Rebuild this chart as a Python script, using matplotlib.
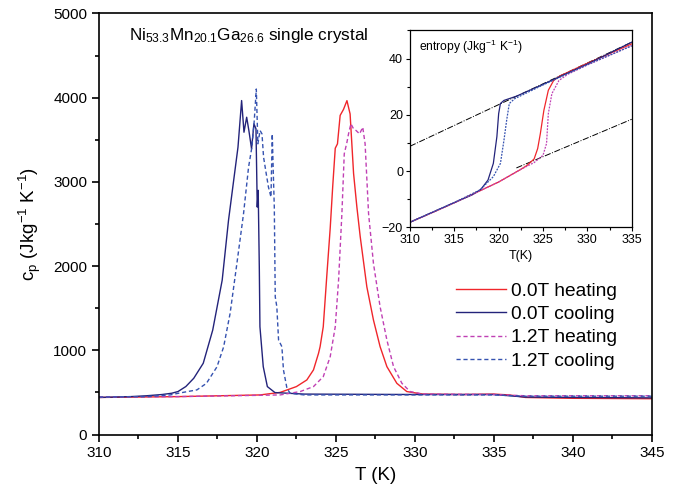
import matplotlib
matplotlib.use("Agg")
import matplotlib.pyplot as plt
from matplotlib.ticker import MultipleLocator

plt.rcParams['font.family'] = ['Liberation Sans', 'DejaVu Sans']
plt.rcParams['mathtext.default'] = 'regular'

# ---------------- main panel data: c_p (J kg^-1 K^-1) vs T (K) ----------------
T_cool0 = [310, 312, 313, 314, 314.6, 315, 315.5, 316, 316.6, 317.2, 317.8, 318.2, 318.5, 318.8, 319.03,
           319.18, 319.35, 319.49, 319.66, 319.81, 319.94, 320.02, 320.08, 320.15, 320.19,
           320.4, 320.66, 321.14, 323, 330, 335, 337, 340, 345]
cp_cool0 = [440, 450, 460, 475, 490, 510, 570, 668, 846, 1240, 1833, 2543, 2979, 3412, 3966,
            3590, 3768, 3610, 3393, 3690, 3630, 2701, 2900, 1990, 1280,
            806, 569, 498, 480, 475, 475, 445, 440, 435]

T_cool12 = [310, 313, 314.5, 315.14, 316.2, 316.8, 317.47, 317.89, 318.3, 318.73, 319.15,
            319.47, 319.68, 319.83, 319.96, 320.06, 320.2, 320.32, 320.42, 320.59, 320.73,
            320.89, 320.97, 321.05, 321.1, 321.16, 321.26, 321.37, 321.58, 321.68, 321.9,
            322.1, 323, 330, 335, 337, 345]
cp_cool12 = [445, 450, 470, 494, 530, 607, 804, 1040, 1437, 2030, 2620,
             3175, 3412, 3728, 4103, 3452, 3610, 3570, 3294, 3096, 2938,
             2820, 3570, 3017, 2701, 1635, 1517, 1122, 1043, 767, 550,
             490, 470, 470, 470, 455, 455]

T_heat0 = [310, 315, 320.2, 321.47, 322.5, 323.16, 323.58, 323.9, 324.0, 324.2, 324.43,
           324.64, 324.8, 324.96, 325.1, 325.27, 325.48, 325.7, 325.9, 326.12, 326.33,
           326.54, 326.96, 327.38, 327.8, 328.23, 328.86, 329.49, 330.5, 333, 335, 336,
           337, 340, 345]
cp_heat0 = [440, 450, 470, 500, 569, 648, 767, 964, 1043, 1280, 1900,
            2450, 2950, 3400, 3452, 3790, 3860, 3965, 3807, 3100, 2700,
            2350, 1754, 1359, 1043, 806, 608, 510, 480, 475, 480, 470,
            440, 430, 425]

T_heat12 = [310, 315, 320, 321.47, 322.74, 323.58, 324.2, 324.64, 324.96, 325.17, 325.38,
            325.53, 325.7, 325.8, 325.95, 326.12, 326.28, 326.5, 326.7, 326.85, 327.07,
            327.38, 327.8, 328.23, 328.65, 329.18, 329.7, 330.5, 335, 337, 345]
cp_heat12 = [445, 450, 465, 470, 510, 569, 687, 924, 1280, 1833, 2622,
             3333, 3471, 3570, 3690, 3630, 3610, 3570, 3650, 3452, 2622,
             2030, 1517, 1122, 806, 608, 510, 480, 475, 460, 460]

# ---------------- inset data: entropy (J kg^-1 K^-1) vs T (K) ----------------
Ti_cool0 = [310, 312.5, 315, 317, 318, 318.8, 319.4, 319.8, 320, 320.2, 320.6, 322, 325,
            327.5, 330, 335]
S_cool0 = [-18.2, -14.7, -11.2, -8.5, -6.5, -3.2, 2.7, 12.2, 20.4, 24, 25.1, 26.6, 30.8,
           34.4, 38.0, 45.8]

Ti_cool12 = [310, 312.5, 315, 317.9, 319.4, 320.2, 320.6, 320.9, 321.2, 321.8, 325, 327.5,
             330, 335]
S_cool12 = [-18.2, -14.7, -11.2, -6.7, -2, 2.7, 11, 18, 24, 25.7, 30.6, 34.2, 37.8, 44.5]

Ti_heat0 = [310, 312.5, 315, 317.5, 320, 322.5, 323.2, 324, 324.4, 324.7, 325.1, 325.6,
            326.2, 326.9, 330, 335]
S_heat0 = [-18.2, -14.8, -11.3, -7.6, -3.9, 0.6, 2, 4.3, 8, 13.3, 21.6, 28.7,
           32.2, 33.8, 38.3, 45.2]

Ti_heat12 = [310, 312.5, 315, 317.5, 320, 322.5, 324, 325, 325.4, 325.6, 326, 326.8,
             327.8, 330, 335]
S_heat12 = [-18.2, -14.8, -11.3, -7.6, -3.9, 0.6, 3, 5.6, 9.8, 20.4, 27.5, 32.2,
            34.4, 37.7, 44.6]

# extrapolated phase lines (black)
Ti_upper = [310, 335]
S_upper = [8.8, 45.8]
Ti_lower = [322, 335]
S_lower = [1.1, 18.4]

labels = ['0.0T heating', '0.0T cooling', '1.2T heating', '1.2T cooling']

c_red = '#f0262b'
c_navy = '#23237a'
c_mag = '#c040b4'
c_blue = '#3552b0'

fig = plt.figure(figsize=(6.81, 4.98), dpi=100)
ax = fig.add_axes([0.1454, 0.1275, 0.8116, 0.8454])

ax.plot(T_heat0, cp_heat0, color=c_red, lw=1.0, label=labels[0])
ax.plot(T_cool0, cp_cool0, color=c_navy, lw=1.0, label=labels[1])
ax.plot(T_heat12, cp_heat12, color=c_mag, lw=1.0, ls=(0, (3, 2)), label=labels[2])
ax.plot(T_cool12, cp_cool12, color=c_blue, lw=1.0, ls=(0, (3, 2)), label=labels[3])

ax.set_xlim(310, 345)
ax.set_ylim(0, 5000)
ax.xaxis.set_major_locator(MultipleLocator(5))
ax.xaxis.set_minor_locator(MultipleLocator(2.5))
ax.yaxis.set_major_locator(MultipleLocator(1000))
ax.yaxis.set_minor_locator(MultipleLocator(500))
ax.tick_params(which='major', direction='out', length=5, width=1.2, labelsize=11)
ax.tick_params(which='minor', direction='out', length=3, width=1.2)
for s in ax.spines.values():
    s.set_linewidth(1.2)
ax.set_xlabel('T (K)', fontsize=13.5, labelpad=5)
ax.set_ylabel('c$_p$ (Jkg$^{-1}$ K$^{-1}$)', fontsize=13.5, labelpad=7)

ax.text(0.055, 0.948, 'Ni$_{53.3}$Mn$_{20.1}$Ga$_{26.6}$ single crystal',
        transform=ax.transAxes, fontsize=12.3, va='center', ha='left')

leg = ax.legend(loc='upper left', bbox_to_anchor=(0.632, 0.38), frameon=False,
                fontsize=13.8, handlelength=2.6, handletextpad=0.25, labelspacing=0.31,
                borderaxespad=0)

# ---------------- inset ----------------
axi = fig.add_axes([0.602, 0.5436, 0.3256, 0.3954])
axi.plot(Ti_upper, S_upper, color='black', lw=0.7, ls='-.')
axi.plot(Ti_lower, S_lower, color='black', lw=0.7, ls='-.')
axi.plot(Ti_heat0, S_heat0, color=c_red, lw=0.9)
axi.plot(Ti_cool0, S_cool0, color=c_navy, lw=0.9)
axi.plot(Ti_heat12, S_heat12, color=c_mag, lw=0.9, ls=(0, (1.5, 1)))
axi.plot(Ti_cool12, S_cool12, color=c_blue, lw=0.9, ls=(0, (1.5, 1)))
axi.set_xlim(310, 335)
axi.set_ylim(-20, 50)
axi.xaxis.set_major_locator(MultipleLocator(5))
axi.xaxis.set_minor_locator(MultipleLocator(2.5))
axi.yaxis.set_minor_locator(MultipleLocator(10))
axi.set_yticks([-20, 0, 20, 40])
axi.tick_params(which='major', direction='out', length=3, width=0.8, labelsize=9, pad=2)
axi.tick_params(which='minor', direction='out', length=2, width=0.8)
for s in axi.spines.values():
    s.set_linewidth(0.9)
axi.set_xlabel('T(K)', fontsize=9, labelpad=3)
axi.text(0.04, 0.96, 'entropy (Jkg$^{-1}$ K$^{-1}$)', transform=axi.transAxes,
         fontsize=8.7, va='top', ha='left')

fig.savefig('out.png', dpi=100)
